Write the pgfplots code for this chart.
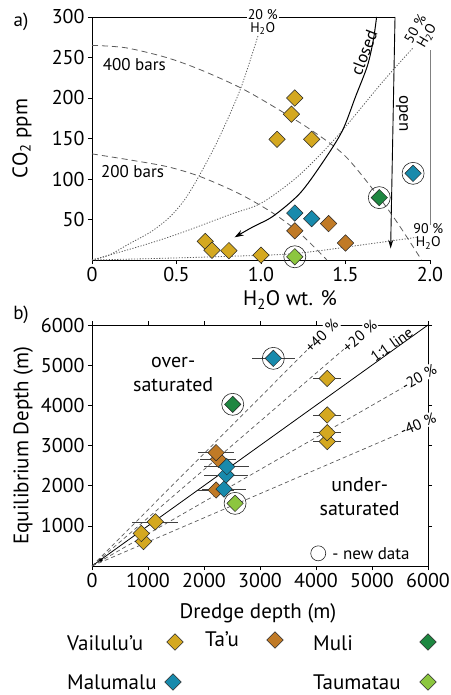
\documentclass[border=0pt]{standalone}
\usepackage{pgfplots}
\pgfplotsset{compat=1.18}
\usepackage{fontspec}
\setmainfont{PT Sans}
\usetikzlibrary{arrows.meta}
\definecolor{vai}{RGB}{212,168,32}
\definecolor{tau}{RGB}{192,122,38}
\definecolor{mal}{RGB}{24,138,172}
\definecolor{mul}{RGB}{30,135,65}
\definecolor{tmt}{RGB}{140,198,63}
\definecolor{dgray}{RGB}{90,90,90}
\pgfplotsset{
  every axis/.append style={scale only axis, clip=false, tick align=outside,
    major tick length=4pt, tick style={black, line width=0.6pt},
    axis line style={line width=0.8pt},
    tick label style={font=\fontsize{20}{24}\selectfont},
    label style={font=\fontsize{21}{25}\selectfont},
    /pgf/number format/assume math mode=true, /pgf/number format/1000 sep={}},
  dia/.style={only marks, forget plot, mark=square*, mark size=5.8pt,
    mark options={rotate=45, draw=black!85, line width=0.5pt, solid, fill=#1}},
  newc/.style={only marks, forget plot, mark=o, mark size=11pt,
    mark options={draw=black!85, line width=0.6pt, solid}},
  iso/.style={forget plot, smooth, dgray, line width=0.8pt, dash pattern=on 1.2pt off 1.6pt},
  bar/.style={forget plot, smooth, dgray, line width=0.8pt, dash pattern=on 6pt off 4pt},
  dev/.style={forget plot, dgray, line width=0.7pt, dash pattern=on 4pt off 3pt},
}
\begin{document}
\begin{tikzpicture}
\useasboundingbox (0pt,0pt) rectangle (450pt,-695pt);
\node[font=\fontsize{19}{22}\selectfont] at (21pt,-22pt) {a)};
\node[font=\fontsize{19}{22}\selectfont] at (21pt,-315pt) {b)};
% ---------- panel a
\begin{axis}[at={(92pt,-260pt)}, anchor=south west, width=338pt, height=243pt,
  xmin=0, xmax=2, ymin=0, ymax=300,
  axis x line*=bottom, axis y line*=left,
  xtick={0,0.5,1,1.5,2}, xticklabels={0,0.5,1.0,1.5,2.0},
  ytick={50,100,150,200,250,300},
  xlabel={H\textsubscript{2}O wt. \%}, ylabel={CO\textsubscript{2} ppm},
  xlabel style={at={(axis description cs:0.586,-0.165)}, anchor=center},
  ylabel style={at={(axis description cs:-0.207,0.5)}, anchor=center, rotate=0},
]
\draw[line width=0.8pt] (axis cs:0,300) -- (axis cs:1.793,300);
\draw[gray, line width=0.8pt] (axis cs:2,43) -- (axis cs:2,259);
% isobars
\addplot[bar] coordinates {(0,265) (0.2,262) (0.44,250) (0.64,235) (0.875,213) (1.07,190) (1.30,160) (1.5,128) (1.7,77) (1.82,42) (1.95,0)};
\addplot[bar] coordinates {(0,131) (0.24,123) (0.45,115) (0.64,103) (0.87,82) (1.07,58) (1.23,33) (1.39,0)};
% isopleths
\addplot[iso] coordinates {(0,0) (0.1,6) (0.22,20) (0.35,35) (0.46,53) (0.55,75) (0.637,105) (0.75,150) (0.88,212) (0.99,282)};
\addplot[iso] coordinates {(0,0) (0.3,18) (0.52,33) (0.815,56) (1.0,70) (1.2,100) (1.35,130) (1.49,162) (1.72,220) (1.9,262)};
\addplot[iso] coordinates {(0,0) (0.4,2) (0.8,4.5) (1.2,8) (1.645,20) (1.92,28)};
% degassing paths
\addplot[forget plot, smooth, black, line width=1pt, -{Stealth[length=9pt,width=6pt]}] coordinates {(1.684,300) (1.665,272) (1.63,240) (1.56,202) (1.48,159) (1.36,119) (1.229,82) (1.071,54) (0.953,41) (0.844,28)};
\addplot[forget plot, black, line width=0.9pt, -{Stealth[length=9pt,width=5pt]}] coordinates {(1.793,300) (1.767,14)};
% data
\addplot[dia=vai] coordinates {(1.2,200) (1.18,180) (1.095,149) (1.30,149) (0.67,23) (0.71,12) (0.81,11.5) (1.0,6)};
\addplot[dia=mal] coordinates {(1.2,58) (1.30,51) (1.9,107)};
\addplot[dia=tau] coordinates {(1.2,36) (1.40,45) (1.50,21)};
\addplot[dia=mul] coordinates {(1.70,77)};
\addplot[dia=tmt] coordinates {(1.2,4)};
\addplot[newc] coordinates {(1.9,107) (1.70,77) (1.2,4)};
% labels
\node[font=\fontsize{17}{20}\selectfont] at (axis cs:0.25,241) {400 bars};
\node[font=\fontsize{17}{20}\selectfont] at (axis cs:0.24,109) {200 bars};
\node[font=\fontsize{17}{20}\selectfont, rotate=69] at (axis cs:1.61,256) {closed};
\node[font=\fontsize{17}{20}\selectfont, rotate=-90] at (axis cs:1.835,181) {open};
\node[font=\fontsize{14}{13}\selectfont, fill=white, inner sep=1pt, align=center] at (axis cs:1.01,294) {20 \%\\H\textsubscript{2}O};
\node[font=\fontsize{14}{13}\selectfont, inner sep=1pt, align=center, rotate=60] at (axis cs:1.95,281) {50 \%\\H\textsubscript{2}O};
\node[font=\fontsize{14}{13}\selectfont, inner sep=1pt, align=center] at (axis cs:1.99,29) {90 \%\\H\textsubscript{2}O};
\end{axis}
% ---------- panel b
\begin{axis}[at={(92pt,-566pt)}, anchor=south west, width=336pt, height=241pt,
  xmin=0, xmax=6000, ymin=0, ymax=6000, scaled ticks=false,
  xtick={0,1000,2000,3000,4000,5000,6000}, ytick={1000,2000,3000,4000,5000,6000},
  xlabel={Dredge depth (m)}, ylabel={Equilibrium Depth (m)},
  xlabel style={at={(axis description cs:0.494,-0.195)}, anchor=center},
  ylabel style={at={(axis description cs:-0.205,0.5)}, anchor=center},
]
% lines
\addplot[forget plot, black, line width=0.8pt] coordinates {(0,0) (6000,6000)};
\addplot[dev] coordinates {(0,0) (4100,5740)};
\addplot[dev] coordinates {(0,0) (4780,5736)};
\addplot[dev] coordinates {(0,0) (5800,4640)};
\addplot[dev] coordinates {(0,0) (5800,3480)};
% error bars
\addplot[forget plot, only marks, mark=none, error bars/.cd, x dir=both, x explicit, error mark=none,
  error bar style={black!75, line width=0.6pt}] coordinates {
  (4200,4670) +- (250,0) (4200,3760) +- (250,0) (4200,3320) +- (250,0) (4200,3100) +- (250,0)
  (1130,1100) +- (410,0) (880,810) +- (150,0)
  (2216,1892) +- (320,0) (2257,2656) +- (320,0) (2216,2822) +- (320,0)
  (2358,1917) +- (400,0) (2394,2266) +- (400,0) (2406,2473) +- (400,0) (3238,5170) +- (385,0)};
\addplot[forget plot, only marks, mark=*, mark size=1.6pt, black] coordinates {(160,150)};
% data
\addplot[dia=vai] coordinates {(920,610) (880,810) (1130,1100) (4200,3100) (4200,3320) (4200,3760) (4200,4670)};
\addplot[dia=tau] coordinates {(2216,1892) (2257,2656) (2216,2822)};
\addplot[dia=mal] coordinates {(2358,1917) (2394,2266) (2406,2473) (3238,5170)};
\addplot[dia=mul] coordinates {(2513,4025)};
\addplot[dia=tmt] coordinates {(2555,1560)};
\addplot[newc] coordinates {(3238,5170) (2513,4025) (2555,1560)};
\addplot[only marks, forget plot, mark=o, mark size=7.5pt, mark options={draw=black!85, line width=0.6pt}] coordinates {(4040,316)};
% labels
\node[font=\fontsize{17}{20}\selectfont, anchor=west] at (axis cs:4230,316) {- new data};
\node[font=\fontsize{20}{24}\selectfont, align=center] at (axis cs:1450,4780) {over-\\saturated};
\node[font=\fontsize{20}{24}\selectfont, align=center] at (axis cs:4780,1720) {under-\\saturated};
\node[font=\fontsize{15}{18}\selectfont, fill=white, inner sep=1pt, rotate=45] at (axis cs:4100,5730) {+40 \%};
\node[font=\fontsize{15}{18}\selectfont, fill=white, inner sep=1pt, rotate=40.7] at (axis cs:4782,5720) {+20 \%};
\node[font=\fontsize{15}{18}\selectfont, inner sep=1pt, rotate=35.6, anchor=south] at (axis cs:5420,5380) {1:1 line};
\node[font=\fontsize{15}{18}\selectfont, fill=white, inner sep=1pt, rotate=29.8] at (axis cs:5840,4700) {-20 \%};
\node[font=\fontsize{15}{18}\selectfont, fill=white, inner sep=1pt, rotate=23.3] at (axis cs:5822,3530) {-40 \%};
\end{axis}
% ---------- key (drawn in a hidden axis whose units are the picture's points)
\begin{axis}[at={(0pt,-695pt)}, anchor=south west, width=450pt, height=695pt,
  xmin=0, xmax=450, ymin=-695, ymax=0, hide axis]
\addplot[dia=vai] coordinates {(175,-642)};
\addplot[dia=tau] coordinates {(275,-640)};
\addplot[dia=mul] coordinates {(428,-642)};
\addplot[dia=mal] coordinates {(173,-682)};
\addplot[dia=tmt] coordinates {(428,-682)};
\node[font=\fontsize{21}{24}\selectfont, anchor=west, inner sep=0pt] at (axis cs:67,-643) {Vailulu'u};
\node[font=\fontsize{21}{24}\selectfont, anchor=west, inner sep=0pt] at (axis cs:205,-639) {Ta'u};
\node[font=\fontsize{21}{24}\selectfont, anchor=west, inner sep=0pt] at (axis cs:313,-643) {Muli};
\node[font=\fontsize{21}{24}\selectfont, anchor=west, inner sep=0pt] at (axis cs:67,-682) {Malumalu};
\node[font=\fontsize{21}{24}\selectfont, anchor=west, inner sep=0pt] at (axis cs:313,-682) {Taumatau};
\end{axis}
\end{tikzpicture}
\end{document}
